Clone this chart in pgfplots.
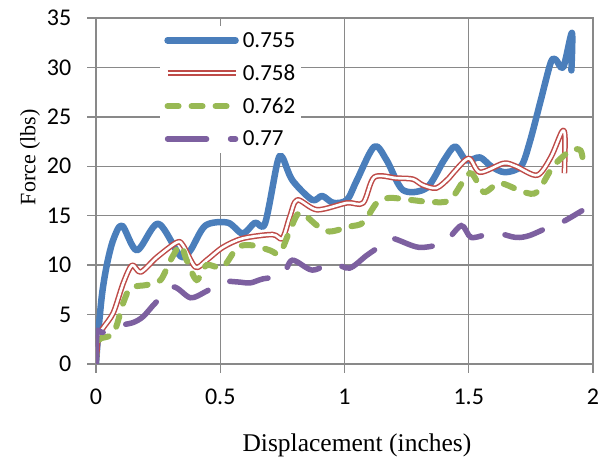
\documentclass[border=0pt]{standalone}
\usepackage{pgfplots}
\pgfplotsset{compat=1.18}
\usepackage{fontspec}
\setmainfont{Carlito}
\newfontfamily\timesfont{Liberation Serif}
\definecolor{cblue}{HTML}{4A7EBB}
\definecolor{cred}{HTML}{BE4B48}
\definecolor{cgreen}{HTML}{98B954}
\definecolor{cpurple}{HTML}{7D60A0}
\definecolor{cgrid}{HTML}{898989}
\begin{document}
\begin{tikzpicture}
\begin{axis}[name=ax, scale only axis, width=497bp, height=346bp,
  xmin=0, xmax=2, ymin=0, ymax=35,
  xtick={0,0.5,1,1.5,2}, ytick={0,5,...,35},
  grid=major, grid style={cgrid, line width=1.3bp},
  axis line style={cgrid, line width=1.5bp},
  tick style={cgrid, line width=1.3bp},
  tick align=outside, major tick length=8.5bp, tick pos=left,
  /pgf/number format/assume math mode=true,
  ticklabel style={font=\fontsize{24bp}{28bp}\selectfont, inner sep=0pt},
  yticklabel style={xshift=-16bp},
  xticklabel style={yshift=-16bp},
  xlabel={Displacement (inches)},
  ylabel={Force (lbs)},
  xlabel style={at={(axis description cs:0.525,-0.254)}, anchor=base, font=\timesfont\fontsize{25.5bp}{30bp}\selectfont},
  ylabel style={at={(axis description cs:-0.122,0.598)}, anchor=base, font=\timesfont\fontsize{22bp}{26bp}\selectfont},
  legend style={at={(axis cs:0.258,34.2)}, anchor=north west, draw=none, fill=white,
    font=\fontsize{23bp}{27bp}\selectfont, row sep=12bp, inner sep=4bp,
    /tikz/every odd column/.append style={column sep=2bp}},
  legend cell align=left,
  legend image code/.code={\draw[#1] (0bp,0bp) -- (68bp,0bp);},
  every axis plot/.append style={smooth, tension=0.5},
]
\addplot[cblue, line width=6.5bp, line cap=round, line join=round] coordinates {
(0,0) (0.01,3.4) (0.025,7.2) (0.045,10.2) (0.07,12.6) (0.105,14) (0.165,11.5) (0.25,14.2)
(0.34,10.9) (0.38,11.5) (0.44,14) (0.53,14.3) (0.59,13.2) (0.64,14.3) (0.68,14.2)
(0.73,20.4) (0.75,20.9) (0.79,18.6) (0.87,16.6) (0.91,17) (0.955,16.3) (1.01,16.6)
(1.05,18.6) (1.12,22) (1.17,20.6) (1.235,17.6) (1.33,17.8) (1.40,20.6) (1.445,22)
(1.49,20.6) (1.545,20.9) (1.59,20) (1.645,19.4) (1.71,20) (1.745,22.4) (1.79,26.7)
(1.83,30.5) (1.85,30.8) (1.88,30) (1.915,33.5) (1.913,29.7)
};
\addlegendentry{0.755}
\addplot[cred, line width=1.5bp, double=white, double distance=2.6bp, line join=round] coordinates {
(0,0) (0.01,2.8) (0.03,3.7) (0.07,5.2) (0.11,8.2) (0.145,10) (0.18,9.3) (0.245,10.8)
(0.325,12.3) (0.35,12) (0.40,9.8) (0.445,10.5) (0.51,11.8) (0.59,12.7) (0.71,13.1)
(0.75,12.7) (0.78,14.9) (0.81,16.6) (0.89,15.6) (1.01,16.3) (1.075,16.3) (1.12,18.9)
(1.21,18.8) (1.275,18.7) (1.315,18.1) (1.37,17.8) (1.42,18.8) (1.44,19.4) (1.50,20.8)
(1.545,19.4) (1.64,20.3) (1.69,20) (1.775,19.1) (1.83,20.9) (1.875,23.5) (1.887,23) (1.885,19.3)
};
\addlegendentry{0.758}
\addplot[cgreen, line width=6bp, line cap=round, dash pattern=on 11bp off 13bp] coordinates {
(0,0) (0.01,2.4) (0.07,3.1) (0.11,6.2) (0.14,7.7) (0.205,8) (0.26,8.5) (0.30,10.5)
(0.34,12) (0.365,10.5) (0.405,8.5) (0.445,10) (0.51,9.8) (0.57,11.8) (0.63,12) (0.70,11.5)
(0.74,11.2) (0.78,13.5) (0.82,15.3) (0.89,14) (0.94,13.4) (1.02,13.9) (1.075,14.3)
(1.13,16.3) (1.18,16.8) (1.265,16.6) (1.345,16.4) (1.425,16.6) (1.505,19.3) (1.56,17.4)
(1.625,18.3) (1.72,17.4) (1.775,17.4) (1.84,20) (1.91,21.6) (1.95,21.6) (1.96,20.4)
};
\addlegendentry{0.762}
\addplot[cpurple, line width=5.5bp, line cap=round, dash pattern=on 39bp off 24bp] coordinates {
(0,0) (0.005,3.2) (0.03,3.2) (0.1,3.9) (0.15,4.2) (0.19,4.8) (0.24,6.2) (0.31,7.8)
(0.38,6.7) (0.44,7.3) (0.51,8.3) (0.57,8.3) (0.62,8.2) (0.67,8.6) (0.75,9) (0.79,10.5)
(0.87,9.5) (0.95,10.2) (1.02,9.7) (1.09,11) (1.16,12.2) (1.195,12.7) (1.30,11.8)
(1.40,12.3) (1.47,14) (1.51,12.8) (1.585,13.2) (1.625,13.2) (1.69,12.8) (1.745,13)
(1.835,14) (1.88,14.4) (1.955,15.5)
};
\addlegendentry{0.77}
\end{axis}
\path ([shift={(-96bp,-94bp)}]ax.south west) rectangle ([shift={(12bp,18bp)}]ax.north east);
\end{tikzpicture}
\end{document}
